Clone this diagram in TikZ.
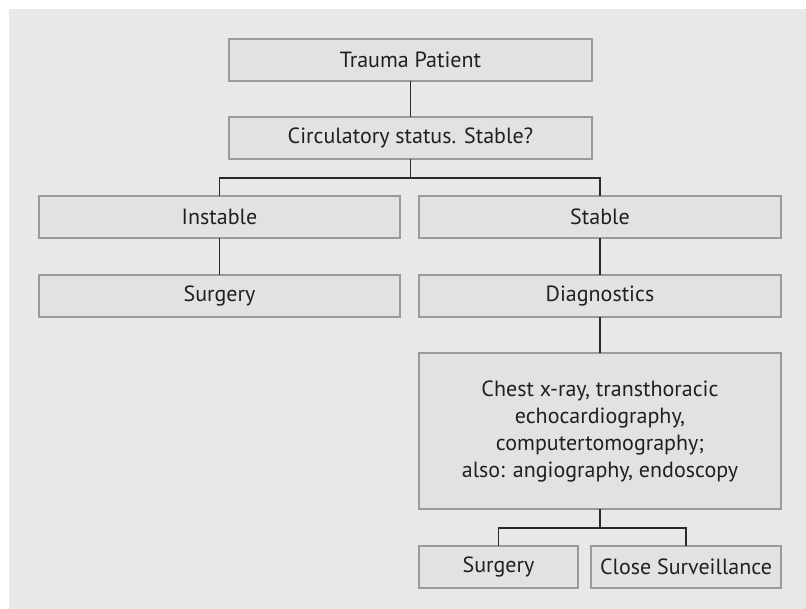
\documentclass[tikz,border=0pt]{standalone}
\usepackage{fontspec}
\setmainfont{PT Sans}
\definecolor{bgc}{HTML}{E8E8E8}
\definecolor{boxfill}{HTML}{E1E2E4}
\definecolor{boxline}{HTML}{9A9A9A}
\definecolor{linec}{HTML}{2A2A2A}
\definecolor{txt}{HTML}{231F20}
\begin{document}
\begin{tikzpicture}[x=1pt,y=-1pt,
  box/.style={draw=boxline,line width=2.2pt,fill=boxfill,inner sep=0pt,outer sep=0pt,
    font=\fontsize{22}{27}\selectfont,text=txt,align=center},
  conn/.style={draw=linec,line width=1.3pt}]
\useasboundingbox (0,0) rectangle (806,609);
\fill[bgc] (9,9) rectangle (806,609);
\node[box,minimum width=363pt,minimum height=42pt] (tp) at (410.5,60) {Trauma Patient};
\node[box,minimum width=363pt,minimum height=42pt] (cs) at (410.5,138) {Circulatory status. Stable?};
\node[box,minimum width=361pt,minimum height=42pt] (ins) at (219.5,217) {Instable};
\node[box,minimum width=362pt,minimum height=42pt] (st) at (600,217) {Stable};
\node[box,minimum width=361pt,minimum height=42pt] (sl) at (219.5,296) {Surgery};
\node[box,minimum width=362pt,minimum height=42pt] (dg) at (600,296) {Diagnostics};
\node[box,minimum width=362pt,minimum height=156pt] (ch) at (600,431) {Chest x-ray, transthoracic\\echocardiography,\\computertomography;\\also: angiography, endoscopy};
\node[box,minimum width=159pt,minimum height=42pt] (sr) at (498.5,567) {Surgery};
\node[box,minimum width=190pt,minimum height=42pt] (cl) at (686,567) {Close Surveillance};
\coordinate (j1) at (410.5,178);
\coordinate (j2) at (600,528);
\draw[conn] (tp.south) -- (cs.north);
\draw[conn] (cs.south) -- (j1);
\draw[conn] (ins.north) |- (j1) -| (st.north);
\draw[conn] (ins.south) -- (sl.north);
\draw[conn] (st.south) -- (dg.north);
\draw[conn] (dg.south) -- (ch.north);
\draw[conn] (ch.south) -- (j2);
\draw[conn] (sr.north) |- (j2) -| (cl.north);
\end{tikzpicture}
\end{document}
